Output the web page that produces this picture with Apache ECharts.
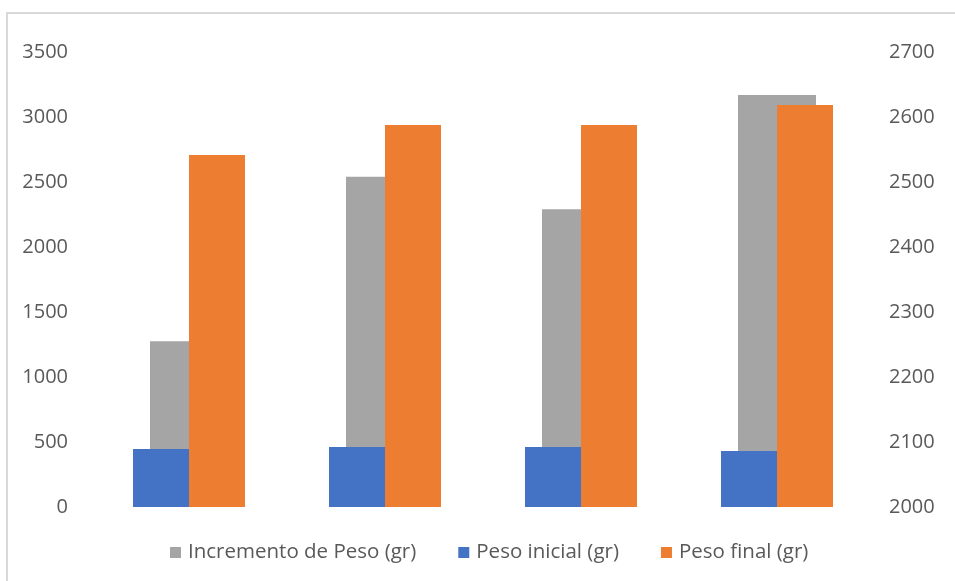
<!DOCTYPE html>
<html>
<head>
<meta charset="utf-8">
<script src="https://cdn.jsdelivr.net/npm/echarts@6/dist/echarts.min.js"></script>
<style>
  html, body { margin: 0; padding: 0; background: #fff; }
  #chart { width: 955px; height: 581px; }
</style>
</head>
<body>
<div id="chart"></div>
<script>
// Weight measurements per group (grams)
const categories = ['1', '2', '3', '4'];
const incrementoPeso = [2255, 2508, 2458, 2634];
const pesoInicial = [446, 461, 461, 431];
const pesoFinal = [2708, 2938, 2938, 3092];

const leftTicks = { min: 0, max: 3500, interval: 500 };
const rightTicks = { min: 2000, max: 2700, interval: 100 };

const textColor = '#595959';
const fontFamily = '"Open Sans", "Noto Sans", sans-serif';
const plain = v => String(v);

const chart = echarts.init(document.getElementById('chart'), null, { renderer: 'canvas' });

chart.setOption({
  backgroundColor: '#ffffff',
  animation: false,
  textStyle: { fontFamily: fontFamily, color: textColor },
  graphic: [{
    type: 'rect',
    shape: { x: 7, y: 13, width: 1000, height: 1000 },
    style: { fill: 'none', stroke: '#d9d9d9', lineWidth: 2 },
    silent: true,
    z: -10
  }],
  grid: { left: 91, right: 80, top: 52, bottom: 74, containLabel: false },
  legend: {
    left: 165,
    top: 537,
    icon: 'rect',
    itemWidth: 11,
    itemHeight: 11,
    itemGap: 42,
    textStyle: { color: textColor, fontSize: 20.5, fontFamily: fontFamily, padding: [0, 0, 0, 2] },
    data: ['Incremento de Peso (gr)', 'Peso inicial (gr)', 'Peso final (gr)']
  },
  xAxis: [
    {
      type: 'category', data: categories,
      axisLine: { show: false }, axisTick: { show: false }, axisLabel: { show: false },
      splitLine: { show: false }
    },
    {
      type: 'category', data: categories,
      axisLine: { show: false }, axisTick: { show: false }, axisLabel: { show: false },
      splitLine: { show: false }
    }
  ],
  yAxis: [
    {
      type: 'value', position: 'left',
      min: leftTicks.min, max: leftTicks.max, interval: leftTicks.interval,
      axisLine: { show: false }, axisTick: { show: false }, splitLine: { show: false },
      axisLabel: { color: textColor, fontSize: 20, margin: 23, fontFamily: fontFamily, formatter: plain }
    },
    {
      type: 'value', position: 'right',
      min: rightTicks.min, max: rightTicks.max, interval: rightTicks.interval,
      axisLine: { show: false }, axisTick: { show: false }, splitLine: { show: false },
      axisLabel: { color: textColor, fontSize: 20, margin: 14, fontFamily: fontFamily, formatter: plain }
    }
  ],
  series: [
    {
      name: 'Incremento de Peso (gr)', type: 'bar',
      xAxisIndex: 1, yAxisIndex: 1,
      data: incrementoPeso, barWidth: 78,
      itemStyle: { color: '#A5A5A5' }, z: 1
    },
    {
      name: 'Peso inicial (gr)', type: 'bar',
      xAxisIndex: 0, yAxisIndex: 0,
      data: pesoInicial, barWidth: 56, barGap: '0%',
      itemStyle: { color: '#4472C4' }, z: 3
    },
    {
      name: 'Peso final (gr)', type: 'bar',
      xAxisIndex: 0, yAxisIndex: 0,
      data: pesoFinal, barWidth: 56, barGap: '0%',
      itemStyle: { color: '#ED7D31' }, z: 3
    }
  ]
});
</script>
</body>
</html>
